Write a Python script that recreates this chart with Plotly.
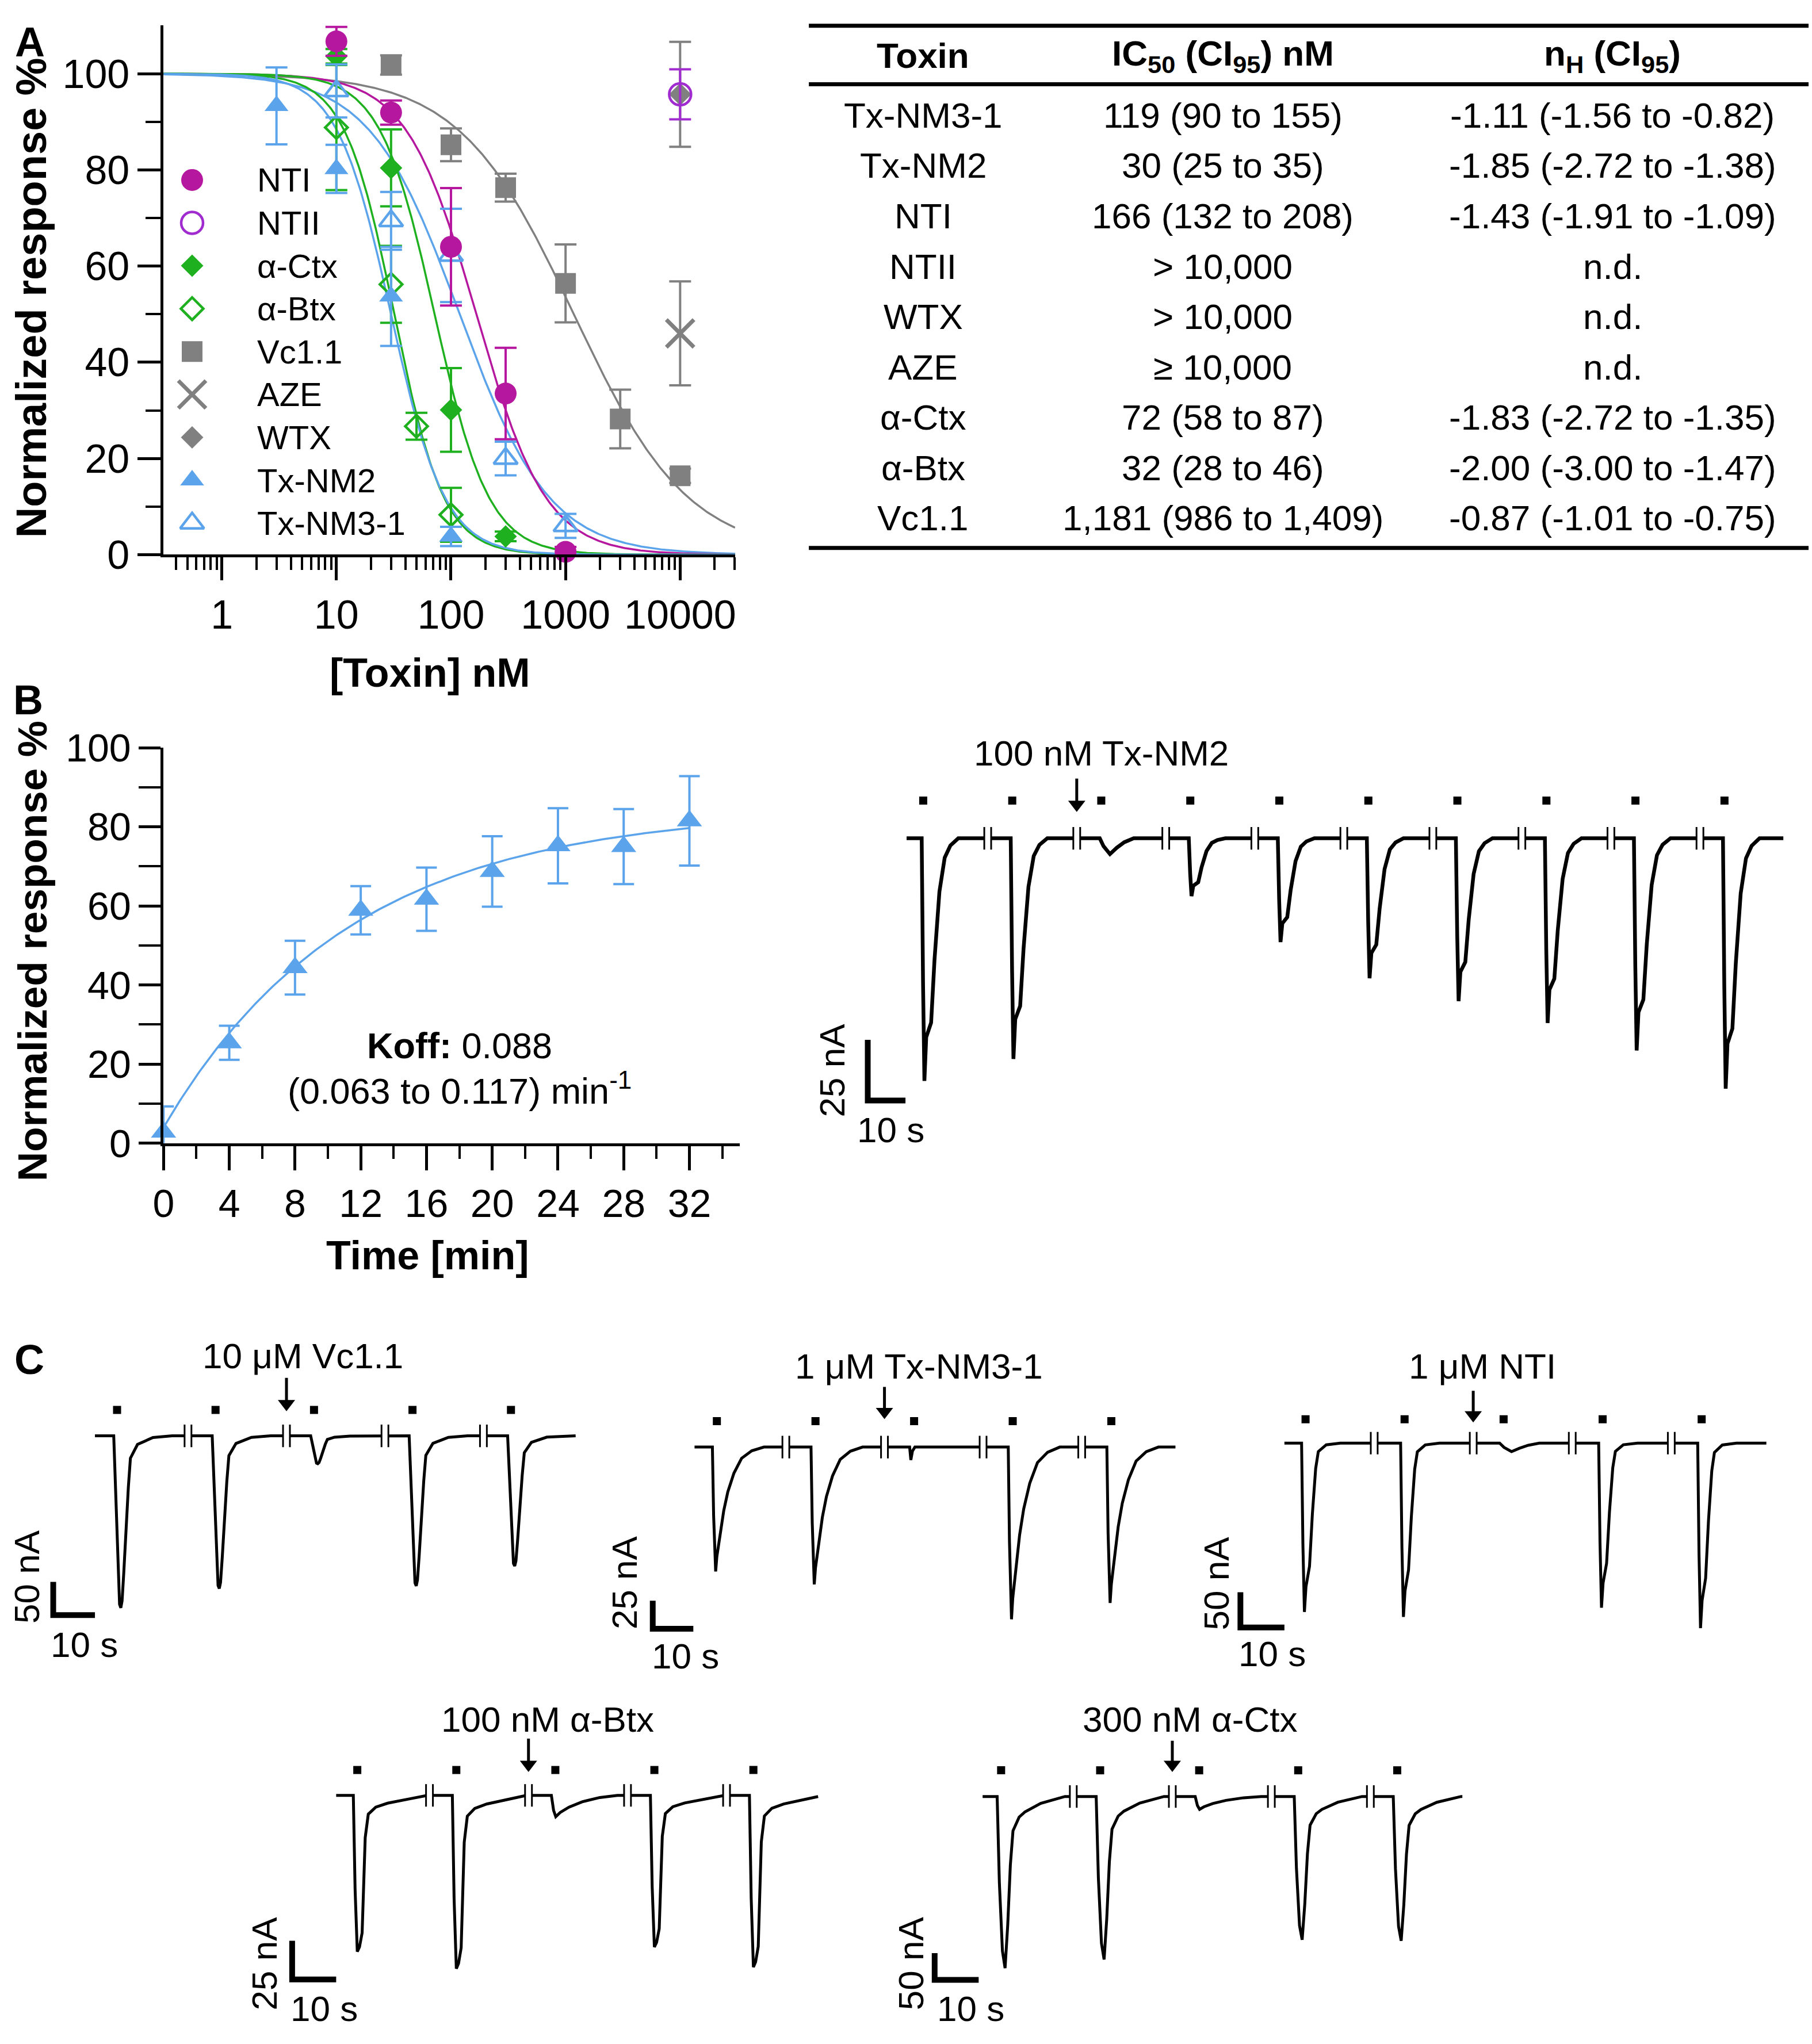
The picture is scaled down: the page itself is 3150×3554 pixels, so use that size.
import numpy as np
import plotly.graph_objects as go

W, H = 3150, 3554
FONT = "Liberation Sans, Arial, sans-serif"

MAG = "#B5179E"
PURPLE = "#A02CCF"
GREEN = "#1FB01F"
GREY = "#808080"
BLUE = "#5BA3EA"

# ---------------- A: concentration-response, % of control (mean +/- SEM) ----------------
nti_conc = [10, 30, 100, 300, 1000]
nti_resp = [106.7, 91.9, 64.0, 33.5, 0.6]
nti_err = [3.0, 2.5, 12.2, 9.5, 1.0]

ntii_conc = [10000]
ntii_resp = [95.7]
ntii_err = [5.2]

actx_conc = [10, 30, 100, 300]
actx_resp = [103.6, 80.4, 30.1, 3.8]
actx_err = [1.5, 8.0, 8.7, 1.0]

abtx_conc = [10, 30, 50, 100]
abtx_resp = [88.8, 56.2, 26.7, 8.3]
abtx_err = [13.0, 8.0, 2.8, 5.6]

vc11_conc = [30, 100, 300, 1000, 3000, 10000]
vc11_resp = [101.8, 85.2, 76.3, 56.4, 28.2, 16.4]
vc11_err = [2.0, 3.4, 2.9, 8.1, 6.1, 1.5]

aze_conc = [10000]
aze_resp = [46.0]
aze_err = [10.8]

wtx_conc = [10000]
wtx_resp = [95.7]
wtx_err = [10.9]

nm2_conc = [3, 10, 30, 100]
nm2_resp = [93.3, 80.2, 53.7, 3.8]
nm2_err = [8.0, 5.0, 10.3, 2.0]

nm31_conc = [10, 30, 100, 300, 1000]
nm31_resp = [96.4, 69.4, 62.2, 20.0, 6.0]
nm31_err = [5.5, 6.0, 9.7, 3.5, 2.5]

# Hill fits (values from the table)
fit_names = ["Vc1.1", "Tx-NM3-1", "NTI", "α-Ctx", "α-Btx", "Tx-NM2"]
fit_ic50 = [1181, 119, 166, 72, 32, 30]
fit_nh = [-0.87, -1.11, -1.43, -1.83, -2.00, -1.85]

# table
tab_toxin = ["Tx-NM3-1", "Tx-NM2", "NTI", "NTII", "WTX", "AZE", "α-Ctx", "α-Btx", "Vc1.1"]
tab_ic50 = ["119 (90 to 155)", "30 (25 to 35)", "166 (132 to 208)", "> 10,000", "> 10,000",
            "≥ 10,000", "72 (58 to 87)", "32 (28 to 46)", "1,181 (986 to 1,409)"]
tab_nh = ["-1.11 (-1.56 to -0.82)", "-1.85 (-2.72 to -1.38)", "-1.43 (-1.91 to -1.09)", "n.d.", "n.d.",
          "n.d.", "-1.83 (-2.72 to -1.35)", "-2.00 (-3.00 to -1.47)", "-0.87 (-1.01 to -0.75)"]

# ---------------- B: recovery after Tx-NM2 washout ----------------
rec_time = [0, 4, 8, 12, 16, 20, 24, 28, 32]
rec_resp = [2.8, 25.4, 44.4, 58.9, 61.7, 68.7, 75.2, 75.0, 81.5]
rec_err = [6.5, 4.3, 6.8, 6.1, 8.0, 8.9, 9.5, 9.5, 11.3]
koff, rec_y0, rec_plateau = 0.088, 4.0, 84.5

# ---------------- current traces: peak amplitude (nA) per ACh pulse ----------------
b_peaks = [99.8, 90.8, 6.5, 23.8, 42.7, 57.6, 67.0, 76.0, 87.3, 103.0]
b_shapes = ["b", "b", "b_weak", "b", "b", "b", "b", "b", "b", "b"]
vc_peaks = [259, 230, 42, 226, 196]
vc_shapes = ["vc", "vc", "vc", "vc", "vc"]
nm3_peaks = [110.5, 122.0, 11.5, 153.0, 138.5]
nm3_shapes = ["nm3", "nm3", "spike", "nm3", "nm3"]
nti_peaks = [240, 247, 12, 234, 263]
nti_shapes = ["nti", "nti", "b_weak", "nti", "nti"]
btx_peaks = [101, 112, 13.8, 98, 111]
btx_shapes = ["btx", "btx", "slow_weak", "btx", "btx"]
ctx_peaks = [321, 305, 24, 268, 270]
ctx_shapes = ["ctx", "ctx", "slow_weak", "ctx", "ctx"]

# normalised response time courses (s after onset, fraction of peak)
SHAPES = {
    "b": ([0, 0.36, 0.72, 1.2, 2.5, 3.4, 4.7, 6.1, 7.6, 9.7],
          [0, 0.6, 1, 0.82, 0.76, 0.5, 0.22, 0.08, 0.03, 0]),
    "b_weak": ([0, 1.0, 2.7, 4.5, 6.5, 9.0], [0, 0.5, 1, 0.6, 0.25, 0]),
    "vc": ([0, 0.5, 1.1, 1.4, 1.7, 2.0, 2.4, 2.9, 3.5, 4.0, 5.7, 9.4, 14],
           [0, 0.35, 0.85, 0.98, 1, 0.96, 0.8, 0.55, 0.3, 0.13, 0.05, 0.01, 0]),
    "nm3": ([0, 0.3, 0.8, 1.1, 1.8, 2.8, 3.8, 5.3, 7.2, 9.7, 12.7],
            [0, 0.55, 1, 0.88, 0.74, 0.51, 0.36, 0.21, 0.09, 0.03, 0]),
    "spike": ([0, 0.3, 0.7, 1.3], [0, 1, 0.3, 0]),
    "nti": ([0, 0.3, 0.64, 1.0, 1.8, 2.45, 3.2, 3.8, 5.6, 8.8],
            [0, 0.6, 1, 0.85, 0.73, 0.42, 0.15, 0.05, 0.01, 0]),
    "btx": ([0, 0.4, 0.9, 1.4, 2.0, 2.7, 3.4, 5.1, 7.8, 13.2, 16.8],
            [0, 0.6, 1, 0.97, 0.88, 0.27, 0.12, 0.075, 0.05, 0.02, 0]),
    "ctx": ([0, 0.5, 1.2, 1.8, 2.4, 3.0, 3.6, 5.0, 6.3, 9.9, 15.4],
            [0, 0.5, 0.9, 1, 0.75, 0.4, 0.2, 0.12, 0.09, 0.04, 0]),
    "slow_weak": ([0, 0.5, 1, 2, 4, 7, 11, 15], [0, 0.7, 1, 0.8, 0.55, 0.3, 0.1, 0]),
}


def px_x(px):
    return px / W


def px_y(py):
    return 1 - py / H


def label(x, y, text, size, angle=0, xanchor="center"):
    # text placed by its pixel centre on the page
    return dict(x=px_x(x), y=px_y(y), xref="paper", yref="paper", text=text, showarrow=False,
                xanchor=xanchor, yanchor="middle", textangle=angle, font=dict(size=size))


fig = go.Figure()
annotations = []
layout = {}

# ================= panel A =================
A_STYLE = {
    "NTI": ("circle", MAG, 38),
    "NTII": ("circle-open", PURPLE, 38),
    "α-Ctx": ("diamond", GREEN, 30),
    "α-Btx": ("diamond-open", GREEN, 30),
    "Vc1.1": ("square", GREY, 36),
    "AZE": ("x-thin-open", GREY, 48),
    "WTX": ("diamond", GREY, 30),
    "Tx-NM2": ("triangle-up", BLUE, 36),
    "Tx-NM3-1": ("triangle-up-open", BLUE, 36),
}
FIT_COLOR = {"Vc1.1": GREY, "Tx-NM3-1": BLUE, "NTI": MAG, "α-Ctx": GREEN, "α-Btx": GREEN, "Tx-NM2": BLUE}

a_series = [
    ("Vc1.1", vc11_conc, vc11_resp, vc11_err),
    ("AZE", aze_conc, aze_resp, aze_err),
    ("WTX", wtx_conc, wtx_resp, wtx_err),
    ("NTII", ntii_conc, ntii_resp, ntii_err),
    ("α-Btx", abtx_conc, abtx_resp, abtx_err),
    ("α-Ctx", actx_conc, actx_resp, actx_err),
    ("Tx-NM3-1", nm31_conc, nm31_resp, nm31_err),
    ("Tx-NM2", nm2_conc, nm2_resp, nm2_err),
    ("NTI", nti_conc, nti_resp, nti_err),
]
legend_order = ["NTI", "NTII", "α-Ctx", "α-Btx", "Vc1.1", "AZE", "WTX", "Tx-NM2", "Tx-NM3-1"]

xlog = [np.log10(0.31), np.log10(30200)]
xx = np.logspace(xlog[0], xlog[1], 400)
for name, ic50, nh in zip(fit_names, fit_ic50, fit_nh):
    fig.add_trace(go.Scatter(x=xx, y=100 / (1 + (xx / ic50) ** (-nh)), mode="lines",
                             line=dict(color=FIT_COLOR[name], width=3.5), hoverinfo="skip",
                             xaxis="x", yaxis="y"))


def marker_of(name):
    sym, col, size = A_STYLE[name]
    is_open = sym.endswith("open")
    return dict(symbol=sym, size=size, color=col,
                line=dict(color=col, width=(7 if sym.startswith("x") else 4.5) if is_open else 0))


for name, c, r, e in a_series:
    col = A_STYLE[name][1]
    fig.add_trace(go.Scatter(x=c, y=r, mode="markers", name=name, marker=marker_of(name),
                             error_y=dict(type="data", array=e, color=col, thickness=4, width=19),
                             cliponaxis=False, xaxis="x", yaxis="y"))

layout["xaxis"] = dict(domain=[px_x(267), px_x(1267)], type="log", range=xlog, anchor="y",
                       showline=True, linewidth=5, linecolor="black", showgrid=False, zeroline=False,
                       ticks="outside", ticklen=40, tickwidth=5, tickcolor="black",
                       tickvals=[1, 10, 100, 1000, 10000], ticktext=["1", "10", "100", "1000", "10000"],
                       tickfont=dict(size=70),
                       minor=dict(tickvals=[m * 10 ** d for d in range(-1, 5) for m in range(2, 10)
                                            if 0.31 < m * 10 ** d < 30200],
                                  ticklen=22, tickwidth=4, tickcolor="black", ticks="outside", showgrid=False))
layout["yaxis"] = dict(domain=[px_y(947), px_y(6.5)], range=[0, 110], anchor="x",
                       showline=True, linewidth=5, linecolor="black", showgrid=False, zeroline=False,
                       ticks="outside", ticklen=40, tickwidth=5, tickcolor="black",
                       tickvals=[0, 20, 40, 60, 80, 100], tickfont=dict(size=70),
                       minor=dict(tickvals=[10, 30, 50, 70, 90], ticklen=26, tickwidth=4,
                                  tickcolor="black", ticks="outside", showgrid=False))

# hand-built legend on an overlay axis measured in pixels
layout["xaxis2"] = dict(domain=[px_x(267), px_x(1267)], range=[267, 1267], visible=False, anchor="y2")
layout["yaxis2"] = dict(domain=[px_y(947), px_y(6.5)], range=[947, 6.5], visible=False, anchor="x2")
leg_y = [281 + i * 76.25 for i in range(len(legend_order))]
for name, y in zip(legend_order, leg_y):
    fig.add_trace(go.Scatter(x=[317], y=[y], mode="markers", marker=marker_of(name),
                             cliponaxis=False, hoverinfo="skip", xaxis="x2", yaxis="y2"))
    annotations.append(label(429, y, name, 58, xanchor="left"))

annotations.append(label(36, 490, "<b>Normalized response %</b>", 74, angle=-90))
annotations.append(label(733, 1157, "<b>[Toxin] nM</b>", 70))
for lab, (x, y) in zip(["A", "B", "C"], [(33, 36), (30, 1205), (32, 2377)]):
    annotations.append(label(x, y, "<b>%s</b>" % lab, 72))

# ================= table =================
shapes = []
for yline in [7, 111, 935]:
    shapes.append(dict(type="line", xref="paper", yref="paper", x0=px_x(1396), x1=px_x(3145),
                       y0=px_y(yline), y1=px_y(yline), line=dict(color="black", width=7)))
col_x = [1596, 2120, 2802]
headers = ["<b>Toxin</b>", "<b>IC<sub>50</sub> (CI<sub>95</sub>) nM</b>", "<b>n<sub>H</sub> (CI<sub>95</sub>)</b>"]
for cx, htxt in zip(col_x, headers):
    annotations.append(label(cx, 60, htxt, 62))
for i, row in enumerate(zip(tab_toxin, tab_ic50, tab_nh)):
    for cx, txt in zip(col_x, row):
        annotations.append(label(cx, 166 + i * 89.5, txt, 62))

# ================= panel B =================
tt = np.linspace(0, 32, 200)
fig.add_trace(go.Scatter(x=tt, y=rec_y0 + (rec_plateau - rec_y0) * (1 - np.exp(-koff * tt)), mode="lines",
                         line=dict(color=BLUE, width=3.5), hoverinfo="skip", xaxis="x3", yaxis="y3"))
fig.add_trace(go.Scatter(x=rec_time, y=rec_resp, mode="markers", marker=dict(symbol="triangle-up", size=38, color=BLUE),
                         error_y=dict(type="data", array=rec_err, color=BLUE, thickness=4, width=18),
                         cliponaxis=False, xaxis="x3", yaxis="y3"))
layout["xaxis3"] = dict(domain=[px_x(267), px_x(1275)], range=[0, 35.06], anchor="y3",
                        showline=True, linewidth=5, linecolor="black", showgrid=False, zeroline=False,
                        ticks="outside", ticklen=42, tickwidth=5, tickcolor="black",
                        tickvals=list(range(0, 33, 4)), tickfont=dict(size=68),
                        minor=dict(tickvals=list(range(2, 35, 4)), ticklen=22, tickwidth=4,
                                   tickcolor="black", ticks="outside", showgrid=False))
layout["yaxis3"] = dict(domain=[px_y(1993), px_y(1290)], range=[0, 100], anchor="x3",
                        showline=True, linewidth=5, linecolor="black", showgrid=False, zeroline=False,
                        ticks="outside", ticklen=38, tickwidth=5, tickcolor="black",
                        tickvals=[0, 20, 40, 60, 80, 100], tickfont=dict(size=68),
                        minor=dict(tickvals=[10, 30, 50, 70, 90], ticklen=38, tickwidth=4,
                                   tickcolor="black", ticks="outside", showgrid=False))
annotations.append(label(37, 1651, "<b>Normalized response %</b>", 71, angle=-90))
annotations.append(label(729, 2192, "<b>Time [min]</b>", 70))
annotations.append(label(785, 1819, "<b>Koff:</b> %.3f" % koff, 63))
annotations.append(label(785, 1896, "(0.063 to 0.117) min<sup>-1</sup>", 63))

# ================= current traces =================
panels = [
    dict(n=4, peaks=b_peaks, shapes=b_shapes, first=4.4, period=23.6, brk=17.1, tail=15.6, lead=0.4, dot=15.5,
         bar_nA=25, bar_t=-10.3, bar_i=-107.9, x0=1567, base=1451, pxs=6.6, pyn=4.32,
         box=(1470, 1330, 3150, 1960), lw=6.5, title="100 nM Tx-NM2", title_px=(1908, 1300),
         arrow_y=(1345, 1404), ylab="25 nA", ylab_px=(1437, 1863), xlab_px=(1539, 1969)),
    dict(n=5, peaks=vc_peaks, shapes=vc_shapes, first=5.3, period=23.6, brk=17.0, tail=15.5, lead=0.8, dot=39,
         bar_nA=50, bar_t=-10.0, bar_i=-270, x0=147, base=2513, pxs=7.3, pyn=1.18,
         box=(50, 2380, 1010, 2860), lw=5.0, title="10 μM Vc1.1", title_px=(511, 2371),
         arrow_y=(2410, 2469), ylab="50 nA", ylab_px=(27, 2763), xlab_px=(128, 2884)),
    dict(n=6, peaks=nm3_peaks, shapes=nm3_shapes, first=5.5, period=24.3, brk=17.0, tail=15.8, lead=1.1, dot=23,
         bar_nA=25, bar_t=-10.3, bar_i=-161.5, x0=1196, base=2533, pxs=7.1, pyn=2.0,
         box=(1100, 2400, 2060, 2880), lw=5.0, title="1 μM Tx-NM3-1", title_px=(1589, 2389),
         arrow_y=(2426, 2483), ylab="25 nA", ylab_px=(1074, 2774), xlab_px=(1180, 2904)),
    dict(n=7, peaks=nti_peaks, shapes=nti_shapes, first=4.8, period=22.5, brk=15.6, tail=14.7, lead=0.9, dot=34,
         bar_nA=50, bar_t=-10.0, bar_i=-262, x0=2228, base=2526, pxs=7.7, pyn=1.25,
         box=(2130, 2400, 3110, 2880), lw=5.0, title="1 μM NTI", title_px=(2574, 2389),
         arrow_y=(2433, 2489), ylab="50 nA", ylab_px=(2109, 2775), xlab_px=(2207, 2900)),
    dict(n=8, peaks=btx_peaks, shapes=btx_shapes, first=4.8, period=22.5, brk=16.4, tail=14.7, lead=0.9, dot=16.4,
         bar_nA=25, bar_t=-10.0, bar_i=-119, x0=569, base=3152, pxs=7.7, pyn=2.75,
         box=(470, 3030, 1440, 3500), lw=5.0, title="100 nM α-Btx", title_px=(939, 3017),
         arrow_y=(3051, 3110), ylab="25 nA", ylab_px=(443, 3451), xlab_px=(548, 3531)),
    dict(n=9, peaks=ctx_peaks, shapes=ctx_shapes, first=4.2, period=22.5, brk=16.4, tail=14.8, lead=0.9, dot=49,
         bar_nA=50, bar_t=-10.9, bar_i=-343, x0=1700, base=3154, pxs=7.7, pyn=0.95,
         box=(1590, 3030, 2560, 3500), lw=5.0, title="300 nM α-Ctx", title_px=(2063, 3017),
         arrow_y=(3055, 3110), ylab="50 nA", ylab_px=(1574, 3451), xlab_px=(1679, 3531)),
]


def sweep(p):
    tp = [p["first"] + k * p["period"] for k in range(len(p["peaks"]))]
    t_end = tp[-1] + p["tail"]
    xs, ys = [0.0], [0.0]
    for t, amp, key in zip(tp, p["peaks"], p["shapes"]):
        st, sf = SHAPES[key]
        on = t - p["lead"]
        xs += [on + s for s in st]
        ys += [-amp * f for f in sf]
    xs, ys = np.array(xs), np.array(ys)
    end_val = np.interp(t_end, xs, ys)
    keep = xs < t_end
    xs = np.append(xs[keep], t_end)
    ys = np.append(ys[keep], end_val)
    breaks = [t + p["brk"] for t in tp[:-1]]
    return xs, ys, tp, breaks


for p in panels:
    n = p["n"]
    xa, ya = "x%d" % n, "y%d" % n
    left, top, right, bottom = p["box"]
    layout["xaxis%d" % n] = dict(domain=[px_x(left), px_x(right)], anchor=ya, visible=False,
                                 range=[(left - p["x0"]) / p["pxs"], (right - p["x0"]) / p["pxs"]])
    layout["yaxis%d" % n] = dict(domain=[px_y(bottom), px_y(top)], anchor=xa, visible=False,
                                 range=[(p["base"] - bottom) / p["pyn"], (p["base"] - top) / p["pyn"]])
    xs, ys, tp, breaks = sweep(p)
    fig.add_trace(go.Scatter(x=xs, y=ys, mode="lines", line=dict(color="black", width=p["lw"]),
                             hoverinfo="skip", xaxis=xa, yaxis=ya))
    fig.add_trace(go.Scatter(x=tp, y=[p["dot"]] * len(tp), mode="markers",
                             marker=dict(symbol="square", size=14, color="black"),
                             hoverinfo="skip", xaxis=xa, yaxis=ya))
    # recording breaks: white gap in the trace flanked by two short bars
    dx, dy = 6 / p["pxs"], 20 / p["pyn"]
    gx, bx, by = [], [], []
    for b in breaks:
        gx += [b - dx, b + dx, None]
        bx += [b - dx, b - dx, None, b + dx, b + dx, None]
        by += [-dy, dy, None, -dy, dy, None]
    fig.add_trace(go.Scatter(x=gx, y=[0, 0, None] * len(breaks), mode="lines",
                             line=dict(color="white", width=p["lw"] + 4), hoverinfo="skip", xaxis=xa, yaxis=ya))
    fig.add_trace(go.Scatter(x=bx, y=by, mode="lines", line=dict(color="black", width=3),
                             hoverinfo="skip", xaxis=xa, yaxis=ya))
    # scale bar: bar_nA vertical, 10 s horizontal
    fig.add_trace(go.Scatter(x=[p["bar_t"], p["bar_t"], p["bar_t"] + 10],
                             y=[p["bar_i"] + p["bar_nA"], p["bar_i"], p["bar_i"]], mode="lines",
                             line=dict(color="black", width=10), hoverinfo="skip", xaxis=xa, yaxis=ya))
    # application arrow at the second break
    tail, head = p["arrow_y"]
    i_tail = (p["base"] - tail) / p["pyn"]
    i_tip = (p["base"] - head + 16) / p["pyn"]
    fig.add_trace(go.Scatter(x=[breaks[1], breaks[1]], y=[i_tail, i_tip], mode="lines",
                             line=dict(color="black", width=5), hoverinfo="skip", xaxis=xa, yaxis=ya))
    fig.add_trace(go.Scatter(x=[breaks[1]], y=[(p["base"] - head + 13) / p["pyn"]], mode="markers",
                             marker=dict(symbol="triangle-down", size=26, color="black"),
                             hoverinfo="skip", xaxis=xa, yaxis=ya))
    # labels
    tx, ty = p["title_px"]
    annotations.append(label(tx, ty, p["title"], 62))
    lx, ly = p["ylab_px"]
    annotations.append(label(lx, ly, p["ylab"], 62, angle=-90))
    sx, sy = p["xlab_px"]
    annotations.append(label(sx, sy, "10 s", 62))

fig.update_layout(width=W, height=H, autosize=False, margin=dict(l=0, r=0, t=0, b=0, pad=0),
                  paper_bgcolor="white", plot_bgcolor="rgba(0,0,0,0)", showlegend=False,
                  font=dict(family=FONT, color="black"), annotations=annotations, shapes=shapes,
                  **layout)
fig.write_html("out.html", config={"displayModeBar": False},
               post_script="document.body.style.margin='0px';")
